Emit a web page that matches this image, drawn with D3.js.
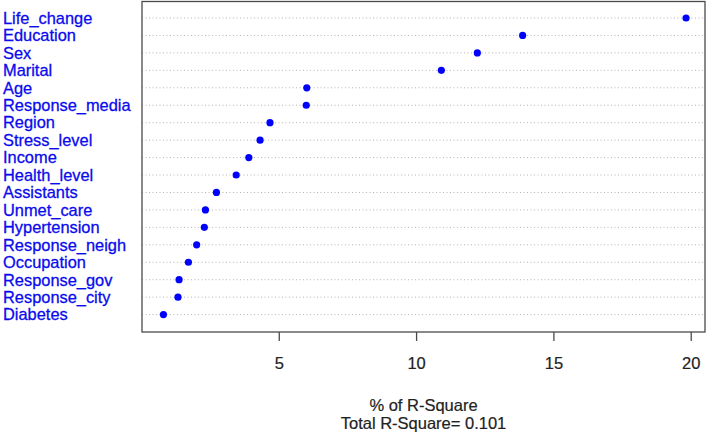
<!DOCTYPE html>
<html>
<head>
<meta charset="utf-8">
<script src="https://cdn.jsdelivr.net/npm/d3@7"></script>
<style>
  html, body { margin: 0; padding: 0; background: #fff; }
  svg { display: block; font-family: "Liberation Sans", Arial, sans-serif; }
</style>
</head>
<body>
<svg id="chart" width="708" height="435"></svg>
<script>
const categories = ["Life_change","Education","Sex","Marital","Age","Response_media","Region","Stress_level","Income","Health_level","Assistants","Unmet_care","Hypertension","Response_neigh","Occupation","Response_gov","Response_city","Diabetes"];
const values = [19.83,13.88,12.23,10.92,6.02,6.00,4.68,4.32,3.91,3.45,2.73,2.33,2.29,2.01,1.71,1.37,1.33,0.80];
const xTicks = [5,10,15,20];
const xTitle = "% of R-Square";
const subTitle = "Total R-Square= 0.101";

const svg = d3.select("#chart");
const plot = {left: 142, right: 705, top: 1.5, bottom: 332};

const x = d3.scaleLinear().domain([0.02, 20.52]).range([plot.left, plot.right]);
const y = d3.scalePoint().domain(categories).range([18, 314.6]).padding(0);

// grid lines
svg.append("g").selectAll("line").data(categories).join("line")
  .attr("x1", plot.left).attr("x2", plot.right)
  .attr("y1", d => y(d)).attr("y2", d => y(d))
  .attr("stroke", "#b4b4b4").attr("stroke-width", 1)
  .attr("stroke-dasharray", "1,2.5");

// frame
svg.append("rect")
  .attr("x", plot.left).attr("y", plot.top)
  .attr("width", plot.right - plot.left).attr("height", plot.bottom - plot.top)
  .attr("fill", "none").attr("stroke", "#4a4a4a").attr("stroke-width", 1.3);

// x axis
const axis = d3.axisBottom(x).tickValues(xTicks).tickSize(9).tickPadding(16).tickFormat(d3.format("d"));
const gx = svg.append("g").attr("transform", `translate(0,${plot.bottom})`).call(axis);
gx.select(".domain").remove();
gx.selectAll(".tick line").attr("stroke", "#4a4a4a").attr("stroke-width", 1.3);
gx.selectAll(".tick text").attr("fill", "#222").attr("font-size", "16.5px")
  .attr("stroke", "#222").attr("stroke-width", 0.2)
  .attr("font-family", "Liberation Sans, Arial, sans-serif");

// category labels
svg.append("g").selectAll("text").data(categories).join("text")
  .attr("x", 3).attr("y", d => y(d) + 5.8)
  .attr("fill", "#0a0aee").attr("stroke", "#0a0aee").attr("stroke-width", 0.3)
  .attr("font-size", "16.4px")
  .text(d => d);

// dots
svg.append("g").selectAll("circle").data(values).join("circle")
  .attr("cx", d => x(d)).attr("cy", (d, i) => y(categories[i]))
  .attr("r", 3.6).attr("fill", "#0000ff");

// titles
svg.append("text").attr("x", (plot.left + plot.right) / 2).attr("y", 411)
  .attr("text-anchor", "middle").attr("fill", "#222").attr("stroke", "#222").attr("stroke-width", 0.2)
  .attr("font-size", "16.5px").text(xTitle);
svg.append("text").attr("x", (plot.left + plot.right) / 2).attr("y", 429.3)
  .attr("text-anchor", "middle").attr("fill", "#222").attr("stroke", "#222").attr("stroke-width", 0.2)
  .attr("font-size", "16.5px").text(subTitle);
</script>
</body>
</html>
